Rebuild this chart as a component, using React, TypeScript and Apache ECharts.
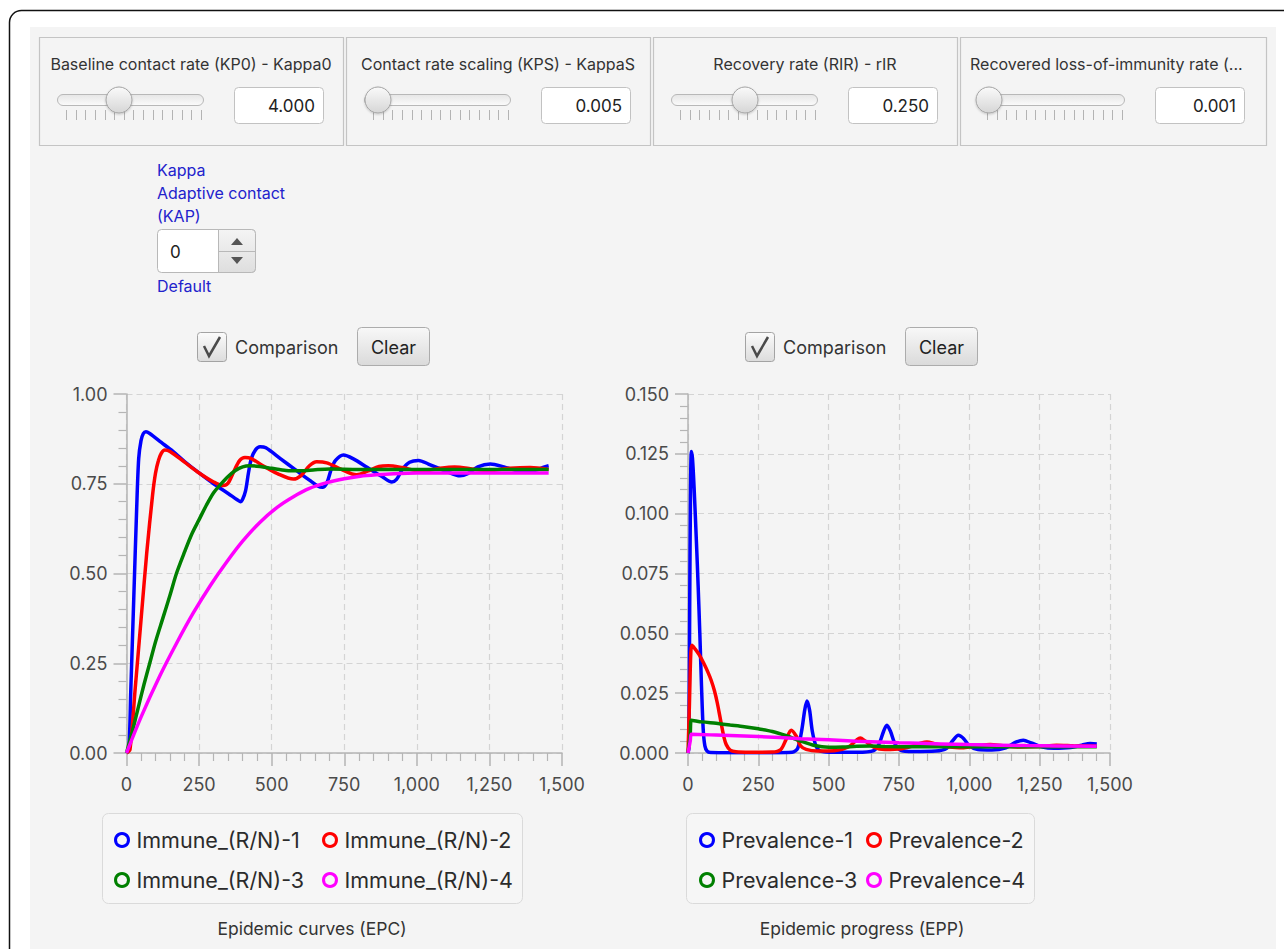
import React, { useEffect, useRef } from "react";
import * as echarts from "echarts";

const FONT = "Inter, 'Noto Sans', sans-serif";
const COLORS = ["#0000ff", "#ff0000", "#008000", "#ff00ff"];

const immuneNames = ["Immune_(R/N)-1", "Immune_(R/N)-2", "Immune_(R/N)-3", "Immune_(R/N)-4"];
const prevalenceNames = ["Prevalence-1", "Prevalence-2", "Prevalence-3", "Prevalence-4"];

const immune1: [number, number][] = [
  [0, 0], [8, 0.01], [15, 0.18], [25, 0.43], [35, 0.68], [42, 0.82], [50, 0.87], [58, 0.89], [67, 0.895],
  [80, 0.89], [120, 0.865], [160, 0.84], [200, 0.812], [250, 0.78], [300, 0.75], [350, 0.723], [380, 0.706],
  [392, 0.7], [400, 0.707], [410, 0.73], [420, 0.78], [430, 0.82], [445, 0.845], [460, 0.853], [480, 0.85],
  [530, 0.82], [580, 0.79], [630, 0.76], [660, 0.743], [675, 0.74], [690, 0.752], [705, 0.79], [720, 0.815],
  [747, 0.83], [780, 0.82], [830, 0.795], [880, 0.77], [914, 0.755], [930, 0.762], [950, 0.79], [975, 0.81],
  [1006, 0.815], [1040, 0.805], [1100, 0.785], [1149, 0.772], [1175, 0.778], [1210, 0.797], [1253, 0.805],
  [1300, 0.797], [1350, 0.785], [1379, 0.782], [1410, 0.788], [1440, 0.797], [1454, 0.8],
];
const immune2: [number, number][] = [
  [0, 0], [12, 0.01], [30, 0.18], [50, 0.37], [70, 0.56], [90, 0.72], [100, 0.78], [110, 0.815], [120, 0.835],
  [132, 0.844], [150, 0.84], [200, 0.81], [250, 0.78], [300, 0.755], [333, 0.745], [350, 0.752], [370, 0.785],
  [390, 0.815], [408, 0.823], [430, 0.82], [470, 0.8], [520, 0.778], [575, 0.763], [600, 0.772], [630, 0.8],
  [655, 0.811], [690, 0.808], [740, 0.79], [793, 0.775], [830, 0.785], [870, 0.798], [902, 0.8], [950, 0.795],
  [1017, 0.785], [1070, 0.792], [1130, 0.797], [1200, 0.79], [1250, 0.787], [1320, 0.793], [1390, 0.795],
  [1454, 0.79],
];
const immune3: [number, number][] = [
  [0, 0], [20, 0.06], [40, 0.125], [60, 0.19], [80, 0.25], [100, 0.31], [125, 0.375], [150, 0.44], [172, 0.5],
  [200, 0.56], [225, 0.61], [250, 0.65], [275, 0.69], [300, 0.725], [322, 0.746], [350, 0.77], [375, 0.787],
  [400, 0.797], [425, 0.8], [460, 0.798], [500, 0.793], [550, 0.787], [600, 0.786], [650, 0.789], [700, 0.791],
  [800, 0.79], [1000, 0.79], [1200, 0.79], [1454, 0.79],
];
const immune4: [number, number][] = [
  [0, 0], [50, 0.1], [115, 0.215], [172, 0.305], [230, 0.39], [290, 0.468], [345, 0.532], [400, 0.59],
  [460, 0.643], [520, 0.685], [575, 0.714], [630, 0.737], [690, 0.753], [750, 0.764], [805, 0.771],
  [860, 0.775], [920, 0.778], [1000, 0.78], [1200, 0.78], [1454, 0.78],
];

const prev1: [number, number][] = [
  [0, 0], [3, 0.002], [6, 0.06], [9, 0.11], [12, 0.126], [16, 0.123], [22, 0.11], [30, 0.088], [36, 0.07],
  [42, 0.05], [48, 0.028], [54, 0.01], [60, 0.003], [68, 0.0008], [80, 0.0002], [150, 0.0001], [300, 0.0001],
  [370, 0.0003], [390, 0.002], [405, 0.01], [415, 0.018], [423, 0.0217], [432, 0.018], [442, 0.009],
  [455, 0.003], [470, 0.0008], [520, 0.0003], [600, 0.0003], [660, 0.001], [680, 0.004], [695, 0.009],
  [707, 0.0116], [720, 0.009], [735, 0.004], [755, 0.0012], [800, 0.0006], [880, 0.0008], [920, 0.002],
  [940, 0.005], [961, 0.0074], [980, 0.006], [1000, 0.003], [1030, 0.0015], [1080, 0.0013], [1130, 0.0022],
  [1165, 0.0045], [1192, 0.0053], [1220, 0.0042], [1260, 0.0025], [1300, 0.002], [1360, 0.0023],
  [1400, 0.0033], [1429, 0.004], [1453, 0.0038],
];
const prev2: [number, number][] = [
  [0, 0], [5, 0.02], [10, 0.042], [14, 0.045], [25, 0.0435], [40, 0.041], [56, 0.0375], [70, 0.034],
  [82, 0.0305], [94, 0.026], [104, 0.021], [113, 0.0155], [121, 0.0105], [128, 0.0065], [136, 0.0035],
  [150, 0.0012], [170, 0.0005], [220, 0.0003], [300, 0.0004], [330, 0.0015], [350, 0.006], [367, 0.0095],
  [385, 0.007], [400, 0.003], [420, 0.0015], [460, 0.0008], [520, 0.0009], [570, 0.0025], [600, 0.0055],
  [612, 0.0063], [630, 0.005], [660, 0.0025], [700, 0.0015], [760, 0.0018], [800, 0.003], [830, 0.0042],
  [849, 0.0046], [880, 0.0038], [930, 0.0025], [980, 0.0022], [1030, 0.003], [1074, 0.0035], [1120, 0.003],
  [1180, 0.0025], [1250, 0.0027], [1310, 0.0032], [1370, 0.003], [1453, 0.0028],
];
const prev3: [number, number][] = [
  [0, 0], [8, 0.008], [12, 0.0137], [50, 0.013], [100, 0.0124], [150, 0.0117], [200, 0.011], [250, 0.0101],
  [300, 0.009], [350, 0.0072], [400, 0.005], [450, 0.0031], [500, 0.0024], [550, 0.0025], [600, 0.0028],
  [650, 0.0029], [700, 0.0027], [800, 0.0026], [1000, 0.0026], [1200, 0.0026], [1453, 0.0026],
];
const prev4: [number, number][] = [
  [0, 0], [8, 0.005], [12, 0.0078], [100, 0.0075], [250, 0.0069], [400, 0.006], [500, 0.0055], [600, 0.0049],
  [750, 0.0043], [900, 0.0038], [1000, 0.0035], [1200, 0.0031], [1453, 0.0028],
];

const sliderTitles = [
  "Baseline contact rate (KP0) - Kappa0",
  "Contact rate scaling (KPS) - KappaS",
  "Recovery rate (RIR) - rIR",
  "Recovered loss-of-immunity rate (...",
];
const sliderValues = ["4.000", "0.005", "0.250", "0.001"];
const kappaLines = ["Kappa", "Adaptive contact", "(KAP)"];

const grad = (a: string, b: string) =>
  new echarts.graphic.LinearGradient(0, 0, 0, 1, [
    { offset: 0, color: a },
    { offset: 1, color: b },
  ]);

function buildGraphics() {
  const g: any[] = [];
  g.push({ type: "rect", shape: { x: 9.5, y: 10.5, width: 1320, height: 980, r: 12 }, style: { fill: "#ffffff", stroke: "#111", lineWidth: 1.5 } });
  g.push({ type: "rect", shape: { x: 30, y: 27, width: 1246, height: 922 }, style: { fill: "#f4f4f4" } });

  const boxX = [39, 346, 653, 960];
  const boxW = [304, 304, 304, 306];
  const thumbOff = [80, 32, 92, 29];
  boxX.forEach((bx, i) => {
    g.push({ type: "rect", shape: { x: bx + 0.5, y: 37.5, width: boxW[i], height: 108 }, style: { fill: "#f4f4f4", stroke: "#c4c4c4", lineWidth: 1.2 } });
    const titleLeft = i === 3;
    g.push({
      type: "text",
      style: {
        x: titleLeft ? bx + 10 : bx + boxW[i] / 2,
        y: 64,
        text: sliderTitles[i],
        fill: "#333",
        font: `16px ${FONT}`,
        textAlign: titleLeft ? "left" : "center",
        textVerticalAlign: "middle",
      },
    });
    g.push({ type: "rect", shape: { x: bx + 18.5, y: 94.5, width: 146, height: 11, r: 5.5 }, style: { fill: grad("#e6e6e6", "#fbfbfb"), stroke: "#b8b8b8", lineWidth: 1 } });
    for (let k = 0; k < 15; k++) {
      const tx = Math.round(bx + 27 + k * 9.64) + 0.5;
      g.push({ type: "line", shape: { x1: tx, y1: 110, x2: tx, y2: 120 }, style: { stroke: "#b3b3b3", lineWidth: 1 } });
    }
    g.push({ type: "circle", shape: { cx: bx + thumbOff[i], cy: 100, r: 13 }, style: { fill: grad("#fafafa", "#d6d6d6"), stroke: "#a5a5a5", lineWidth: 1, shadowBlur: 2, shadowColor: "rgba(0,0,0,0.2)", shadowOffsetY: 1 } });
    g.push({ type: "rect", shape: { x: bx + 195.5, y: 87.5, width: 89, height: 36, r: 4 }, style: { fill: "#ffffff", stroke: "#c2c2c2", lineWidth: 1 } });
    g.push({ type: "text", style: { x: bx + 276, y: 106, text: sliderValues[i], fill: "#222", font: `17px ${FONT}`, textAlign: "right", textVerticalAlign: "middle" } });
  });

  kappaLines.forEach((t, i) => {
    g.push({ type: "text", style: { x: 157, y: 170 + i * 23, text: t, fill: "#2222cc", font: `16px ${FONT}`, textVerticalAlign: "middle" } });
  });
  g.push({ type: "rect", shape: { x: 157.5, y: 229.5, width: 98, height: 43, r: 4 }, style: { fill: "#ffffff", stroke: "#b8b8b8", lineWidth: 1 } });
  g.push({ type: "rect", shape: { x: 218.5, y: 229.5, width: 37, height: 43, r: [0, 4, 4, 0] }, style: { fill: grad("#f4f4f4", "#dedede"), stroke: "#b8b8b8", lineWidth: 1 } });
  g.push({ type: "line", shape: { x1: 219, y1: 251.5, x2: 255, y2: 251.5 }, style: { stroke: "#b8b8b8", lineWidth: 1 } });
  g.push({ type: "polygon", shape: { points: [[231, 245], [243, 245], [237, 238]] }, style: { fill: "#555" } });
  g.push({ type: "polygon", shape: { points: [[231, 257], [243, 257], [237, 264]] }, style: { fill: "#555" } });
  g.push({ type: "text", style: { x: 170, y: 252, text: "0", fill: "#222", font: `17px ${FONT}`, textVerticalAlign: "middle" } });
  g.push({ type: "text", style: { x: 157, y: 286, text: "Default", fill: "#2222cc", font: `16px ${FONT}`, textVerticalAlign: "middle" } });

  [197, 745].forEach((cx) => {
    g.push({ type: "rect", shape: { x: cx + 0.5, y: 332.5, width: 29, height: 29, r: 3 }, style: { fill: grad("#fbfbfb", "#dcdcdc"), stroke: "#a3a3a3", lineWidth: 1 } });
    g.push({ type: "polyline", shape: { points: [[cx + 7, 346], [cx + 12, 356], [cx + 23, 337]] }, style: { stroke: "#4a4a4a", lineWidth: 2.5, fill: null } });
    g.push({ type: "text", style: { x: cx + 38, y: 347, text: "Comparison", fill: "#333", font: `18px ${FONT}`, textVerticalAlign: "middle" } });
    g.push({ type: "rect", shape: { x: cx + 160.5, y: 327.5, width: 72, height: 38, r: 4 }, style: { fill: grad("#f8f8f8", "#dadada"), stroke: "#acacac", lineWidth: 1 } });
    g.push({ type: "text", style: { x: cx + 196.5, y: 347, text: "Clear", fill: "#222", font: `18px ${FONT}`, textAlign: "center", textVerticalAlign: "middle" } });
  });

  g.push({ type: "rect", shape: { x: 102.5, y: 813.5, width: 420, height: 90, r: 6 }, style: { fill: "#f6f6f6", stroke: "#dadada", lineWidth: 1 } });
  g.push({ type: "rect", shape: { x: 686.5, y: 813.5, width: 348, height: 90, r: 6 }, style: { fill: "#f6f6f6", stroke: "#dadada", lineWidth: 1 } });
  g.push({ type: "text", style: { x: 312, y: 928, text: "Epidemic curves (EPC)", fill: "#333", font: `17.5px ${FONT}`, textAlign: "center", textVerticalAlign: "middle" } });
  g.push({ type: "text", style: { x: 862, y: 928, text: "Epidemic progress (EPP)", fill: "#333", font: `17.5px ${FONT}`, textAlign: "center", textVerticalAlign: "middle" } });
  return g;
}

const fmtThousands = (v: number) => v.toLocaleString("en-US");

function xAxisDef(gridIndex: number) {
  return {
    type: "value",
    gridIndex,
    min: 0,
    max: 1500,
    interval: 250,
    axisLine: { show: true, onZero: false, lineStyle: { color: "#b5b5b5", width: 1.5 } },
    axisTick: { show: true, length: 13, lineStyle: { color: "#b5b5b5", width: 1.5 } },
    minorTick: { show: true, splitNumber: 5, length: 8, lineStyle: { color: "#b5b5b5", width: 1.2 } },
    splitLine: { show: true, lineStyle: { color: "#d4d4d4", type: [6, 4], width: 1.2 } },
    axisLabel: { color: "#4a4a4a", fontSize: 18, fontFamily: FONT, margin: 22, formatter: fmtThousands, showMaxLabel: true },
  };
}

function yAxisDef(gridIndex: number, max: number, interval: number, digits: number) {
  return {
    type: "value",
    gridIndex,
    min: 0,
    max,
    interval,
    axisLine: { show: true, lineStyle: { color: "#b5b5b5", width: 1.5 } },
    axisTick: { show: true, length: 13, lineStyle: { color: "#b5b5b5", width: 1.5 } },
    minorTick: { show: true, splitNumber: 5, length: 8, lineStyle: { color: "#b5b5b5", width: 1.2 } },
    splitLine: { show: true, lineStyle: { color: "#d4d4d4", type: [6, 4], width: 1.2 } },
    axisLabel: { color: "#4a4a4a", fontSize: 18, fontFamily: FONT, margin: 19, formatter: (v: number) => v.toFixed(digits) },
  };
}

function lineSeries(name: string, data: [number, number][], idx: number, axis: number) {
  return {
    type: "line",
    name,
    data,
    xAxisIndex: axis,
    yAxisIndex: axis,
    showSymbol: false,
    symbol: "none",
    smooth: 0.3,
    lineStyle: { color: COLORS[idx], width: 3.5 },
    itemStyle: { color: COLORS[idx] },
  };
}

function legendDef(name: string, idx: number, left: number, top: number) {
  return {
    show: true,
    left,
    top,
    padding: 0,
    itemWidth: 13,
    itemHeight: 13,
    selectedMode: false,
    textStyle: { fontSize: 21.5, color: "#2b2b2b", fontFamily: FONT, padding: [0, 0, 0, 3] },
    data: [{ name, icon: "circle", itemStyle: { color: "#f6f6f6", borderColor: COLORS[idx], borderWidth: 3 } }],
  };
}

export default function App() {
  const ref = useRef<HTMLDivElement>(null);
  useEffect(() => {
    if (!ref.current) return;
    const chart = echarts.init(ref.current, null, { renderer: "svg" });
    const immune = [immune1, immune2, immune3, immune4];
    const prev = [prev1, prev2, prev3, prev4];
    const leftCols = [114, 322];
    const rightCols = [699, 866];
    const rows = [829, 869];
    const legends: any[] = [];
    immuneNames.forEach((n, i) => legends.push(legendDef(n, i, leftCols[i % 2], rows[Math.floor(i / 2)])));
    prevalenceNames.forEach((n, i) => legends.push(legendDef(n, i, rightCols[i % 2], rows[Math.floor(i / 2)])));
    chart.setOption({
      animation: false,
      backgroundColor: "#ffffff",
      textStyle: { fontFamily: FONT },
      graphic: { elements: buildGraphics() },
      grid: [
        { left: 126.5, top: 394, width: 435.5, height: 359, containLabel: false },
        { left: 688, top: 394, width: 422, height: 359, containLabel: false },
      ],
      xAxis: [xAxisDef(0), xAxisDef(1)],
      yAxis: [yAxisDef(0, 1, 0.25, 2), yAxisDef(1, 0.15, 0.025, 3)],
      legend: legends,
      series: [
        ...immune.map((d, i) => lineSeries(immuneNames[i], d, i, 0)),
        ...prev.map((d, i) => lineSeries(prevalenceNames[i], d, i, 1)),
      ],
    });
    return () => chart.dispose();
  }, []);
  return <div ref={ref} style={{ position: "fixed", left: 0, top: 0, width: 1284, height: 949 }} />;
}
